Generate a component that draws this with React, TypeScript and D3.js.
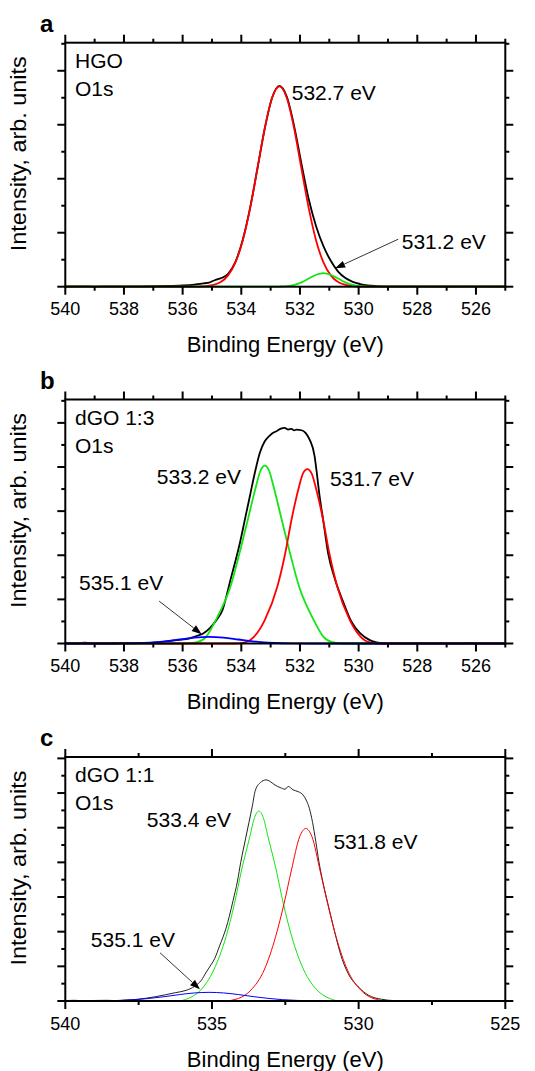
import React from 'react';
import * as d3 from 'd3';

type Pt = [number, number];

// ---------- Panel a: HGO O1s ----------
const hgoMeasured: Pt[] = [
  [540, 0.004], [539.5, 0.006], [539, 0.003], [538.5, 0.006], [538, 0.005], [537.5, 0.007],
  [537, 0.01], [536.5, 0.015], [536, 0.025], [535.6, 0.04], [535.3, 0.06], [535.1, 0.075],
  [534.95, 0.11], [534.8, 0.14], [534.6, 0.18], [534.45, 0.24], [534.2, 0.46], [533.95, 0.87],
  [533.7, 1.46], [533.45, 2.19], [533.2, 2.93], [532.95, 3.5], [532.7, 3.72], [532.45, 3.52],
  [532.2, 2.98], [531.95, 2.28], [531.7, 1.62], [531.45, 1.12], [531.2, 0.75], [530.95, 0.48],
  [530.7, 0.28], [530.45, 0.16], [530.2, 0.09], [529.95, 0.05], [529.7, 0.025], [529.4, 0.012],
  [529, 0.005], [528.5, 0.004], [528, 0.006], [527, 0.004], [526, 0.005], [525, 0.004],
];
const hgoFit5327: Pt[] = [
  [540, 0], [535.7, 0], [535.45, 0.003], [535.2, 0.011], [534.95, 0.032], [534.7, 0.087],
  [534.45, 0.21], [534.2, 0.449], [533.95, 0.857], [533.7, 1.452], [533.45, 2.189], [533.2, 2.934],
  [532.95, 3.499], [532.7, 3.71], [532.45, 3.499], [532.2, 2.934], [531.95, 2.189], [531.7, 1.452],
  [531.45, 0.857], [531.2, 0.449], [530.95, 0.21], [530.7, 0.087], [530.45, 0.032], [530.2, 0.011],
  [529.95, 0.003], [529.7, 0], [525, 0],
];
const hgoFit5312: Pt[] = [
  [540, 0], [532.95, 0], [532.7, 0.003], [532.45, 0.011], [532.2, 0.034], [531.95, 0.081],
  [531.7, 0.152], [531.45, 0.221], [531.2, 0.25], [530.95, 0.221], [530.7, 0.152], [530.45, 0.081],
  [530.2, 0.034], [529.95, 0.011], [529.7, 0.003], [529.45, 0], [525, 0],
];

// ---------- Panel b: dGO 1:3 O1s ----------
const dgo13Measured: Pt[] = [
  [540, 0.003], [539.6, 0.005], [539.3, 0.02], [539.2, 0.004], [538.5, 0.005], [538, 0.006],
  [537.5, 0.008], [537.12, 0.015], [536.67, 0.038], [536.21, 0.076], [535.76, 0.114], [535.53, 0.167],
  [535.3, 0.227], [535.08, 0.341], [534.85, 0.53], [534.64, 0.758], [534.51, 1.061], [534.37, 1.439],
  [534.22, 1.818], [534.05, 2.273], [533.88, 2.803], [533.71, 3.333], [533.54, 3.864], [533.37, 4.318],
  [533.2, 4.583], [533.03, 4.712], [532.9, 4.78], [532.8, 4.811], [532.65, 4.87], [532.52, 4.886],
  [532.4, 4.85], [532.29, 4.864], [532.2, 4.83], [532.12, 4.848], [531.95, 4.833], [531.81, 4.773],
  [531.67, 4.621], [531.5, 4.242], [531.44, 3.939], [531.33, 3.333], [531.21, 2.803], [531.04, 2.045],
  [530.81, 1.46], [530.53, 0.95], [530.25, 0.5], [529.96, 0.24], [529.62, 0.076], [529.39, 0.023],
  [529.17, 0.005], [528.5, 0.004], [527.5, 0.005], [526.4, 0.004], [526.3, 0.015], [526.2, 0.004],
  [525, 0.003],
];
const dgo13Fit5332: Pt[] = [
  [540, 0], [535.9, 0], [535.5, 0.03], [535.2, 0.15], [534.87, 0.53], [534.37, 1.29], [534.06, 2.05],
  [533.78, 2.8], [533.5, 3.56], [533.35, 3.91], [533.2, 4.03], [533.05, 3.91], [532.9, 3.56],
  [532.62, 2.8], [532.34, 2.05], [532.03, 1.29], [531.53, 0.53], [531.2, 0.15], [530.9, 0.03],
  [530.5, 0], [525, 0],
];
const dgo13Fit5317: Pt[] = [
  [540, 0], [534.25, 0], [533.91, 0.02], [533.57, 0.15], [533.2, 0.53], [532.77, 1.29], [532.5, 2.05],
  [532.29, 2.8], [532.03, 3.56], [531.9, 3.85], [531.75, 3.95], [531.6, 3.85], [531.47, 3.56],
  [531.21, 2.8], [531.0, 2.05], [530.73, 1.29], [530.3, 0.53], [529.93, 0.15], [529.59, 0.02],
  [529.25, 0], [525, 0],
];
const dgo13Fit5351: Pt[] = [
  [540, 0], [538.6, 0], [538.1, 0.002], [537.6, 0.006], [537.1, 0.02], [536.6, 0.049], [536.1, 0.091],
  [535.6, 0.133], [535.1, 0.15], [534.6, 0.133], [534.1, 0.091], [533.6, 0.049], [533.1, 0.02],
  [532.6, 0.006], [532.1, 0.002], [531.6, 0], [525, 0],
];

// ---------- Panel c: dGO 1:1 O1s ----------
const dgo11Measured: Pt[] = [
  [540, 0.012], [539.7, 0.02], [539.4, 0.008], [539, 0.015], [538.6, 0.02], [538.3, 0.012],
  [537.9, 0.03], [537.59, 0.045], [536.92, 0.125], [536.25, 0.24], [535.92, 0.298], [535.58, 0.43],
  [535.36, 0.6], [535.19, 0.84], [535.02, 1.06], [534.91, 1.22], [534.74, 1.59], [534.63, 1.83],
  [534.52, 2.1], [534.41, 2.44], [534.28, 2.9], [534.13, 3.46], [534.02, 4.0], [533.85, 4.7],
  [533.74, 5.15], [533.63, 5.6], [533.52, 6.08], [533.35, 6.3], [533.16, 6.38], [533.01, 6.33],
  [532.85, 6.23], [532.68, 6.16], [532.51, 6.11], [532.4, 6.19], [532.23, 6.09], [532.06, 6.04],
  [531.89, 5.94], [531.79, 5.8], [531.68, 5.56], [531.57, 5.15], [531.46, 4.6], [531.35, 4.0],
  [531.21, 3.4], [531.06, 2.85], [530.89, 2.25], [530.73, 1.7], [530.56, 1.2], [530.33, 0.75],
  [530.0, 0.4], [529.67, 0.17], [529.22, 0.05], [528.77, 0.012], [528.3, 0.008], [527.8, 0.015],
  [527.3, 0.01], [526.8, 0.014], [526.3, 0.008], [525.8, 0.013], [525.3, 0.009], [525, 0.01],
];
const dgo11Fit5334: Pt[] = [
  [540, 0], [536.19, 0], [535.8, 0.077], [535.38, 0.317], [534.94, 0.894], [534.52, 1.856],
  [534.23, 2.82], [533.99, 3.78], [533.71, 4.74], [533.55, 5.29], [533.4, 5.48], [533.25, 5.29],
  [533.09, 4.74], [532.81, 3.78], [532.57, 2.82], [532.28, 1.856], [531.87, 0.894], [531.42, 0.317],
  [531.0, 0.077], [530.61, 0], [525, 0],
];
const dgo11Fit5318: Pt[] = [
  [540, 0], [534.59, 0], [534.09, 0.077], [533.67, 0.317], [533.22, 0.894], [532.83, 1.856],
  [532.54, 2.82], [532.29, 3.78], [532.01, 4.74], [531.9, 4.92], [531.8, 4.98], [531.7, 4.92],
  [531.59, 4.74], [531.32, 3.78], [531.06, 2.82], [530.77, 1.856], [530.38, 0.894], [529.93, 0.317],
  [529.51, 0.077], [529.01, 0], [525, 0],
];
const dgo11Fit5351: Pt[] = [
  [540, 0], [539.6, 0.001], [539.1, 0.002], [538.6, 0.007], [538.1, 0.017], [537.6, 0.039],
  [537.1, 0.077], [536.6, 0.128], [536.1, 0.186], [535.6, 0.232], [535.1, 0.25], [534.6, 0.232],
  [534.1, 0.186], [533.6, 0.128], [533.1, 0.077], [532.6, 0.039], [532.1, 0.017], [531.6, 0.007],
  [531.1, 0.002], [530.6, 0.001], [530, 0], [525, 0],
];

// ---------- Ticks ----------
const xMajorAB = [540, 538, 536, 534, 532, 530, 528, 526];
const xMinorAB = [539, 537, 535, 533, 531, 529, 527, 525];
const xMajorC = [540, 535, 530, 525];
const xMinorC = [537.5, 532.5, 527.5];
const yMajorA = [0, 1, 2, 3, 4];
const yMinorA = [0.5, 1.5, 2.5, 3.5, 4.5];
const yMajorB = [0, 1, 2, 3, 4, 5];
const yMinorB = [0.5, 1.5, 2.5, 3.5, 4.5, 5.5];
const yMajorC = [0, 1, 2, 3, 4, 5, 6, 7];
const yMinorC = [0.5, 1.5, 2.5, 3.5, 4.5, 5.5, 6.5];

const xDomain: [number, number] = [540, 525];
const yMaxes = [4.52, 5.53, 7.04];
const letters = ['a', 'b', 'c'];
const sampleNames = [['HGO', 'O1s'], ['dGO 1:3', 'O1s'], ['dGO 1:1', 'O1s']];

// peak annotations: [text, E, v]
const peakLabelsA: [string, number, number][] = [['532.7 eV', 532.28, 3.46], ['531.2 eV', 528.53, 0.69]];
const peakLabelsB: [string, number, number][] = [['533.2 eV', 536.88, 3.62], ['531.7 eV', 530.98, 3.56], ['535.1 eV', 539.53, 1.21]];
const peakLabelsC: [string, number, number][] = [['533.4 eV', 537.22, 5.02], ['531.8 eV', 530.86, 4.4], ['535.1 eV', 539.13, 1.565]];
// arrows: [fromE, fromV, toE, toV]
const arrowA = [528.65, 0.88, 530.8, 0.34];
const arrowB = [536.8, 0.96, 535.35, 0.21];
const arrowC = [536.77, 1.39, 535.41, 0.34];

const FONT = '"Liberation Sans", Arial, Helvetica, sans-serif';
const GREEN = '#12e612';
const RED = '#ff0000';
const BLUE = '#0000ff';

interface Curve { data: Pt[]; color: string; }
interface PanelDef {
  top: number;
  yMax: number;
  yMajor: number[];
  yMinor: number[];
  xMajor: number[];
  xMinor: number[];
  curves: Curve[];
  lw: number;
  labels: [string, number, number][];
  arrow: number[];
  letter: string;
  names: string[];
}

const L = 65.3, R = 505.3, H = 244;
const panels: PanelDef[] = [
  {
    top: 42.7, yMax: yMaxes[0], yMajor: yMajorA, yMinor: yMinorA, xMajor: xMajorAB, xMinor: xMinorAB,
    curves: [{ data: hgoMeasured, color: '#000' }, { data: hgoFit5327, color: RED }, { data: hgoFit5312, color: GREEN }],
    lw: 1.8, labels: peakLabelsA, arrow: arrowA, letter: letters[0], names: sampleNames[0],
  },
  {
    top: 399.5, yMax: yMaxes[1], yMajor: yMajorB, yMinor: yMinorB, xMajor: xMajorAB, xMinor: xMinorAB,
    curves: [{ data: dgo13Measured, color: '#000' }, { data: dgo13Fit5332, color: GREEN }, { data: dgo13Fit5317, color: RED }, { data: dgo13Fit5351, color: BLUE }],
    lw: 1.8, labels: peakLabelsB, arrow: arrowB, letter: letters[1], names: sampleNames[1],
  },
  {
    top: 757, yMax: yMaxes[2], yMajor: yMajorC, yMinor: yMinorC, xMajor: xMajorC, xMinor: xMinorC,
    curves: [{ data: dgo11Measured, color: '#222' }, { data: dgo11Fit5334, color: GREEN }, { data: dgo11Fit5318, color: RED }, { data: dgo11Fit5351, color: BLUE }],
    lw: 1.0, labels: peakLabelsC, arrow: arrowC, letter: letters[2], names: sampleNames[2],
  },
];

function Panel({ p }: { p: PanelDef }) {
  const x = d3.scaleLinear().domain(xDomain).range([L, R]);
  const y = d3.scaleLinear().domain([0, p.yMax]).range([p.top + H, p.top]);
  const bottom = p.top + H;
  const line = d3.line<Pt>().x((d) => x(d[0])).y((d) => y(d[1])).curve(d3.curveMonotoneX);
  const MAJ = 8, MIN = 4;
  const tickStyle = { stroke: '#000', strokeWidth: 2 };

  const [fe, fv, te, tv] = p.arrow;
  const x1 = x(fe), y1 = y(fv), x2 = x(te), y2 = y(tv);
  const ang = Math.atan2(y2 - y1, x2 - x1);
  const ah = 10, aw = 3.6;
  const bx = x2 - ah * Math.cos(ang), by = y2 - ah * Math.sin(ang);
  const head = [
    [x2, y2],
    [bx + aw * Math.sin(ang), by - aw * Math.cos(ang)],
    [bx - aw * Math.sin(ang), by + aw * Math.cos(ang)],
  ].map((q) => q.join(',')).join(' ');

  return (
    <g>
      {p.curves.map((c, i) => (
        <path key={i} d={line(c.data) || ''} fill="none" stroke={c.color} strokeWidth={p.lw} strokeLinejoin="round" />
      ))}
      <rect x={L} y={p.top} width={R - L} height={H} fill="none" stroke="#000" strokeWidth={2} />
      {p.xMajor.map((t) => (
        <g key={'xM' + t}>
          <line x1={x(t)} x2={x(t)} y1={bottom} y2={bottom + MAJ} {...tickStyle} />
          <line x1={x(t)} x2={x(t)} y1={p.top} y2={p.top - MAJ} {...tickStyle} />
          <text x={x(t)} y={bottom + 28.5} textAnchor="middle" fontSize={18} fontFamily={FONT}>{t}</text>
        </g>
      ))}
      {p.xMinor.map((t) => (
        <g key={'xm' + t}>
          <line x1={x(t)} x2={x(t)} y1={bottom} y2={bottom + MIN} {...tickStyle} />
          <line x1={x(t)} x2={x(t)} y1={p.top} y2={p.top - MIN} {...tickStyle} />
        </g>
      ))}
      {p.yMajor.map((t) => (
        <g key={'yM' + t}>
          <line x1={L} x2={L - MAJ} y1={y(t)} y2={y(t)} {...tickStyle} />
          <line x1={R} x2={R + MAJ} y1={y(t)} y2={y(t)} {...tickStyle} />
        </g>
      ))}
      {p.yMinor.map((t) => (
        <g key={'ym' + t}>
          <line x1={L} x2={L - MIN} y1={y(t)} y2={y(t)} {...tickStyle} />
          <line x1={R} x2={R + MIN} y1={y(t)} y2={y(t)} {...tickStyle} />
        </g>
      ))}
      <text x={40} y={p.top - 11} fontSize={24} fontWeight="bold" fontFamily={FONT}>{p.letter}</text>
      <text x={75} y={p.top + 25} fontSize={21} fontFamily={FONT}>{p.names[0]}</text>
      <text x={75} y={p.top + 53} fontSize={21} fontFamily={FONT}>{p.names[1]}</text>
      {p.labels.map((l, i) => (
        <text key={i} x={x(l[1])} y={y(l[2])} fontSize={21} fontFamily={FONT}>{l[0]}</text>
      ))}
      <line x1={x1} y1={y1} x2={bx} y2={by} stroke="#000" strokeWidth={0.8} />
      <polygon points={head} fill="#000" />
      <text x={(L + R) / 2} y={bottom + 65.7} textAnchor="middle" fontSize={22} fontFamily={FONT}>Binding Energy (eV)</text>
      <text transform={`translate(26,${p.top + H / 2 - 11}) rotate(-90)`} textAnchor="middle" fontSize={22}
        textLength={195} lengthAdjust="spacingAndGlyphs" fontFamily={FONT}>Intensity, arb. units</text>
    </g>
  );
}

export default function App() {
  return (
    <svg width={535} height={1071} style={{ position: 'absolute', left: 0, top: 0, background: '#fff' }}>
      <rect width={535} height={1071} fill="#fff" />
      {panels.map((p, i) => <Panel key={i} p={p} />)}
    </svg>
  );
}
